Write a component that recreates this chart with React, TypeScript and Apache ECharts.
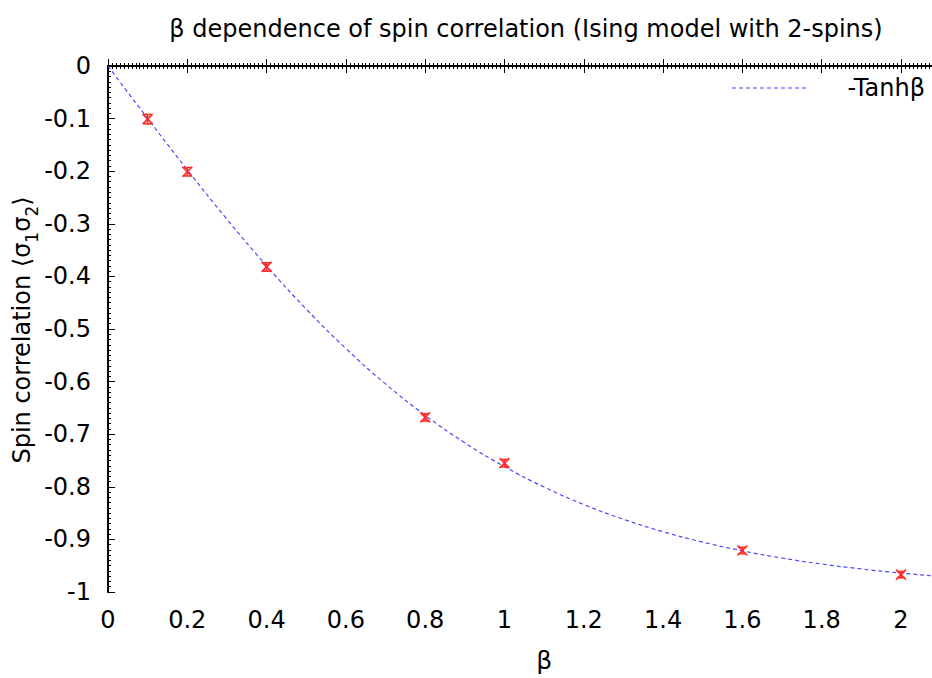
import React, { useEffect, useRef } from "react";
import * as echarts from "echarts";

// Measured spin correlation points (β, <σ1σ2>, error)
const betaPoints = [0.1, 0.2, 0.4, 0.8, 1.0, 1.6, 2.0];
const corrValues = [-0.101, -0.201, -0.382, -0.668, -0.755, -0.921, -0.967];
const corrErrors = [0.009, 0.008, 0.008, 0.007, 0.007, 0.006, 0.006];

// -Tanhβ curve
const curveBeta = [0, 0.1, 0.2, 0.3, 0.4, 0.5, 0.6, 0.7, 0.8, 0.9, 1.0, 1.1, 1.2, 1.3, 1.4, 1.5, 1.6, 1.7, 1.8, 1.9, 2.0, 2.1, 2.2];
const curveValues = [0, -0.0997, -0.1974, -0.2913, -0.3799, -0.4621, -0.537, -0.6044, -0.664, -0.7163, -0.7616, -0.8005, -0.8337, -0.8617, -0.8854, -0.9051, -0.9217, -0.9354, -0.9468, -0.9562, -0.964, -0.9705, -0.9757];

const xTicks = { min: 0, max: 2.2, interval: 0.2, lastLabel: 2 };
const yTicks = { min: -1, max: 0, interval: 0.1 };

const FONT = "DejaVu Sans";

export default function App() {
  const ref = useRef<HTMLDivElement>(null);
  useEffect(() => {
    if (!ref.current) return;
    const chart = echarts.init(ref.current, undefined, { renderer: "svg" });
    const axisCommon = {
      axisLine: { show: true, lineStyle: { color: "#000", width: 2 } },
      axisTick: { show: true, inside: true, length: 7, lineStyle: { color: "#000", width: 1 } },
      minorTick: { show: true, length: 3, lineStyle: { color: "#000", width: 1 } },
      splitLine: { show: false },
    };
    const option: any = {
      animation: false,
      backgroundColor: "#fff",
      title: {
        text: "β dependence of spin correlation (Ising model with 2-spins)",
        left: 521,
        top: 12,
        textAlign: "center",
        textStyle: { fontFamily: FONT, fontSize: 24, fontWeight: "normal", color: "#000" },
      },
      grid: { left: 108, top: 66, width: 872.3, height: 526, containLabel: false },
      xAxis: [
        {
          type: "value",
          min: xTicks.min,
          max: xTicks.max,
          interval: xTicks.interval,
          position: "bottom",
          ...axisCommon,
          minorTick: { ...axisCommon.minorTick, splitNumber: 20 },
          axisLabel: {
            margin: 16,
            fontFamily: FONT,
            fontSize: 24,
            color: "#000",
            formatter: (v: number) => (v > xTicks.lastLabel + 1e-6 ? "" : String(Math.round(v * 10) / 10)),
          },
          name: "β",
          nameLocation: "middle",
          nameGap: 56,
          nameTextStyle: { fontFamily: FONT, fontSize: 25, color: "#000" },
        },
        {
          type: "value",
          min: xTicks.min,
          max: xTicks.max,
          interval: xTicks.interval,
          position: "top",
          ...axisCommon,
          minorTick: { ...axisCommon.minorTick, splitNumber: 20 },
          axisLabel: { show: false },
        },
      ],
      yAxis: [
        {
          type: "value",
          min: yTicks.min,
          max: yTicks.max,
          interval: yTicks.interval,
          position: "left",
          ...axisCommon,
          minorTick: { ...axisCommon.minorTick, splitNumber: 10 },
          axisLabel: { margin: 17, fontFamily: FONT, fontSize: 24, color: "#000" },
        },
      ],
      graphic: [
        {
          type: "text",
          x: 25,
          y: 330,
          rotation: Math.PI / 2,
          style: {
            text: "{a|Spin correlation ⟨σ}{s|1}{a|σ}{s|2}{a|⟩}",
            align: "center",
            verticalAlign: "middle",
            rich: {
              a: { fontFamily: FONT, fontSize: 24, lineHeight: 30, verticalAlign: "top", fill: "#000" },
              s: { fontFamily: FONT, fontSize: 17, lineHeight: 14, verticalAlign: "bottom", fill: "#000" },
            },
          },
        },
        {
          type: "line",
          shape: { x1: 732, y1: 88, x2: 808, y2: 88 },
          style: { stroke: "#4a4aff", lineWidth: 1.2, lineDash: [4, 3] },
        },
        {
          type: "text",
          x: 925,
          y: 88,
          style: {
            text: "-Tanhβ",
            align: "right",
            verticalAlign: "middle",
            fontFamily: FONT,
            fontSize: 24,
            fill: "#000",
          },
        },
      ],
      series: [
        {
          type: "line",
          data: curveBeta.map((b, i) => [b, curveValues[i]]),
          smooth: true,
          showSymbol: false,
          symbol: "none",
          lineStyle: { color: "#4a4aff", width: 1.2, type: [4, 3] },
          z: 2,
        },
        {
          type: "custom",
          data: betaPoints.map((b, i) => [b, corrValues[i], corrErrors[i]]),
          z: 3,
          renderItem: (params: any, api: any) => {
            const x = api.value(0);
            const y = api.value(1);
            const e = api.value(2);
            const c = api.coord([x, y]);
            const t = api.coord([x, y + e]);
            const b = api.coord([x, y - e]);
            const s = { stroke: "#ff2a2a", lineWidth: 1.6 };
            const h = 5;
            const k = 4;
            return {
              type: "group",
              children: [
                { type: "line", shape: { x1: c[0], y1: t[1], x2: c[0], y2: b[1] }, style: s },
                { type: "line", shape: { x1: c[0] - k, y1: t[1], x2: c[0] + k, y2: t[1] }, style: s },
                { type: "line", shape: { x1: c[0] - k, y1: b[1], x2: c[0] + k, y2: b[1] }, style: s },
                { type: "line", shape: { x1: c[0] - h, y1: c[1] - h, x2: c[0] + h, y2: c[1] + h }, style: s },
                { type: "line", shape: { x1: c[0] - h, y1: c[1] + h, x2: c[0] + h, y2: c[1] - h }, style: s },
              ],
            };
          },
        },
      ],
    };
    chart.setOption(option);
    return () => chart.dispose();
  }, []);
  return (
    <div style={{ position: "absolute", left: 0, top: 0, width: 932, height: 678, overflow: "hidden", background: "#fff" }}>
      <div ref={ref} style={{ width: 1000, height: 678 }} />
    </div>
  );
}
